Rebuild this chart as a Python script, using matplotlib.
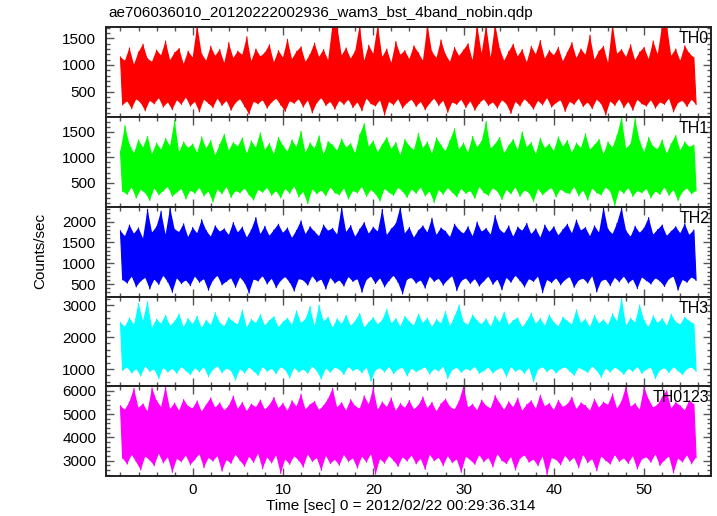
import matplotlib
matplotlib.use("Agg")
import matplotlib.pyplot as plt
from matplotlib.ticker import MultipleLocator
import numpy as np

plt.rcParams['font.family'] = ['Liberation Sans', 'DejaVu Sans']

title = "ae706036010_20120222002936_wam3_bst_4band_nobin.qdp"
xlabel = "Time [sec] 0 = 2012/02/22 00:29:36.314"
ylabel = "Counts/sec"

band_names = ["TH0", "TH1", "TH2", "TH3", "TH0123"]
band_colors = ["#ff0000", "#00ff00", "#0000ff", "#00ffff", "#ff00ff"]

time_start = -8.0
time_step = 0.5

th0_hi = [1150, 1080, 1320, 1010, 1240, 1390, 1120, 1060, 1280, 1180, 1450, 1090, 1230, 1310, 1020, 1260,
          1140, 1750, 1210, 1080, 1350, 1170, 1290, 1040, 1420, 1130, 1260, 1190, 1530, 1070, 1300, 1160,
          1230, 1380, 1050, 1270, 1140, 1480, 1110, 1250, 1340, 1060, 1200, 1410, 1150, 1290, 1090, 1760,
          1740, 1180, 1320, 1120, 1260, 1750, 1080, 1370, 1210, 1760, 1150, 1300, 1040, 1440, 1190, 1270,
          1110, 1360, 1230, 1080, 1750, 1250, 1130, 1470, 1200, 1060, 1330, 1170, 1280, 1400, 1090, 1760,
          1220, 1750, 1140, 1770, 1310, 1080, 1250, 1390, 1160, 1290, 1050, 1350, 1200, 1460, 1120, 1270,
          1180, 1330, 1070, 1240, 1420, 1130, 1300, 1190, 1560, 1100, 1260, 1350, 1040, 1760, 1210, 1290,
          1150, 1380, 1090, 1240, 1330, 1110, 1450, 1200, 1750, 1760, 1170, 1300, 1080, 1360, 1220, 1140]
th0_lo = [250, 320, 180, 360, 290, 140, 330, 270, 380, 210, 300, 160, 340, 260, 390, 230,
          310, 120, 350, 280, 200, 370, 240, 330, 150, 290, 360, 220, 80, 310, 270, 340,
          190, 300, 370, 250, 130, 320, 280, 360, 210, 340, 100, 290, 380, 240, 310, 170,
          330, 260, 350, 200, 300, 140, 370, 270, 230, 340, 60, 310, 250, 360, 190, 290,
          350, 220, 310, 160, 280, 370, 240, 330, 110, 300, 260, 350, 200, 320, 150, 280,
          360, 240, 300, 190, 340, 270, 90, 310, 230, 360, 280, 170, 330, 250, 380, 210,
          290, 340, 130, 310, 260, 370, 220, 300, 180, 350, 270, 60, 320, 240, 360, 200,
          310, 150, 350, 270, 230, 340, 190, 300, 260, 370, 120, 290, 330, 220, 350, 260]

th1_hi = [1120, 1620, 1250, 1080, 1340, 1190, 1410, 1060, 1280, 1150, 1370, 1220, 1720, 1100, 1300, 1180,
          1260, 1090, 1400, 1170, 1330, 1040, 1250, 1450, 1130, 1290, 1210, 1380, 1070, 1320, 1190, 1480,
          1150, 1270, 1060, 1390, 1230, 1110, 1340, 1200, 1510, 1090, 1280, 1170, 1420, 1050, 1310, 1240,
          1130, 1360, 1190, 1270, 1080, 1440, 1660, 1210, 1320, 1100, 1250, 1390, 1160, 1290, 1040, 1350,
          1220, 1140, 1470, 1180, 1300, 1070, 1380, 1240, 1120, 1330, 1560, 1150, 1280, 1090, 1410, 1200,
          1310, 1700, 1170, 1260, 1390, 1080, 1230, 1350, 1140, 1500, 1200, 1290, 1060, 1370, 1180, 1260,
          1120, 1400, 1210, 1330, 1090, 1280, 1180, 1460, 1150, 1240, 1350, 1060, 1300, 1190, 1430, 1780,
          1170, 1260, 1760, 1320, 1100, 1390, 1210, 1160, 1340, 1070, 1270, 1430, 1130, 1300, 1200, 1240]
th1_lo = [330, 270, 410, 200, 360, 300, 150, 390, 260, 340, 420, 230, 310, 380, 180, 350,
          290, 400, 240, 330, 120, 370, 280, 420, 210, 340, 300, 390, 260, 160, 360, 310,
          400, 250, 340, 200, 380, 290, 430, 220, 320, 90, 370, 280, 350, 240, 410, 300,
          260, 390, 180, 340, 300, 420, 230, 360, 280, 140, 380, 310, 250, 400, 330, 210,
          370, 290, 410, 240, 330, 110, 360, 270, 400, 310, 220, 380, 290, 340, 190, 420,
          300, 250, 390, 330, 170, 360, 280, 410, 230, 350, 300, 130, 380, 260, 340, 400,
          220, 370, 310, 280, 420, 240, 350, 160, 390, 300, 260, 410, 330, 50, 360, 290,
          400, 230, 340, 300, 380, 200, 330, 270, 410, 250, 360, 150, 320, 390, 280, 340]

th2_hi = [1780, 1650, 1920, 1710, 1850, 1600, 2300, 1740, 1880, 2250, 1690, 2340, 1820, 1750, 1950, 1630,
          1860, 1720, 2050, 1790, 1640, 1900, 1760, 1830, 1680, 1980, 1740, 1870, 1620, 1810, 2100, 1700,
          1890, 1660, 1800, 1940, 1730, 1850, 1610, 1790, 2020, 1700, 1880, 1760, 1650, 1920, 1780, 1840,
          1690, 2360, 1750, 1910, 1640, 1820, 1980, 1710, 1870, 1760, 2300, 1680, 1830, 1950, 2350, 1720,
          1860, 1620, 1790, 1900, 1740, 2080, 1680, 1850, 1770, 1630, 1940, 1800, 1710, 1880, 1650, 1990,
          1760, 1840, 1690, 2150, 1810, 1720, 1900, 1640, 1870, 1780, 1960, 1700, 1830, 1620, 1920, 1750,
          1880, 1670, 1810, 1940, 1720, 2040, 1790, 1860, 1650, 1900, 1740, 2340, 1820, 1700, 1960, 2330,
          1780, 1640, 1890, 1730, 1850, 2100, 1690, 1810, 1920, 1660, 1770, 1880, 1720, 1950, 1680, 1800]
th2_lo = [600, 520, 680, 430, 570, 650, 380, 610, 490, 700, 550, 300, 640, 510, 590, 460,
          680, 540, 620, 350, 590, 700, 480, 560, 640, 420, 660, 530, 280, 610, 570, 690,
          500, 630, 410, 580, 670, 540, 330, 620, 590, 470, 690, 550, 610, 380, 650, 520,
          590, 450, 670, 560, 620, 300, 600, 680, 510, 640, 430, 580, 700, 540, 260, 610,
          650, 520, 590, 400, 680, 560, 630, 470, 600, 690, 340, 570, 640, 510, 620, 450,
          570, 680, 490, 610, 360, 650, 540, 700, 580, 430, 620, 560, 680, 290, 600, 530,
          640, 480, 600, 670, 420, 590, 630, 520, 690, 310, 570, 610, 460, 650, 550, 680,
          520, 610, 390, 660, 580, 500, 640, 570, 440, 620, 680, 350, 600, 540, 660, 590]

th3_hi = [2450, 2320, 2600, 2380, 3050, 2510, 3100, 2290, 2560, 2420, 2680, 2350, 2490, 2720, 2310, 2580,
          2400, 2650, 2280, 2530, 2370, 2760, 2450, 2330, 2610, 2480, 2390, 2840, 2300, 2550, 2430, 2700,
          2360, 2520, 2640, 2310, 2470, 2590, 2380, 2820, 2440, 2560, 2950, 2340, 3000, 2490, 2620, 2290,
          2570, 2410, 2680, 2350, 2500, 2740, 2300, 2460, 2610, 2390, 2530, 2870, 2420, 2580, 2330, 2650,
          2480, 2360, 2720, 2440, 2590, 2310, 2550, 2420, 2800, 2340, 2630, 3000, 2470, 2380, 2690, 2510,
          2400, 2570, 2320, 2660, 2450, 2780, 2370, 2520, 2600, 2300, 2490, 2740, 2410, 2580, 2350, 2690,
          2460, 2330, 2620, 2500, 2390, 2850, 2440, 2560, 2310, 2680, 2420, 2540, 2370, 2730, 2480, 3200,
          2360, 2590, 2450, 3000, 2520, 2310, 2660, 2430, 2580, 2350, 2710, 2470, 2390, 2620, 2500, 2410]
th3_lo = [950, 1050, 870, 1000, 780, 1080, 920, 990, 700, 1040, 900, 1010, 860, 1070, 940, 820,
          1030, 910, 1060, 760, 980, 1090, 880, 1020, 940, 650, 1000, 870, 1050, 930, 800, 1070,
          920, 1010, 850, 1060, 970, 720, 1040, 900, 990, 860, 1080, 940, 680, 1020, 890, 1050,
          980, 830, 1070, 940, 1010, 880, 1050, 620, 960, 1030, 900, 1070, 850, 990, 1040, 780,
          1020, 910, 980, 1060, 840, 1000, 930, 1080, 700, 970, 1040, 890, 1010, 950, 1070, 860,
          940, 1050, 870, 990, 1030, 760, 1070, 920, 1000, 860, 1040, 600, 980, 1060, 910, 1020,
          870, 1000, 1060, 930, 800, 1040, 970, 890, 1080, 950, 740, 1020, 900, 1050, 960, 830,
          1010, 920, 1070, 860, 990, 1040, 700, 960, 1030, 880, 1060, 940, 820, 1000, 1050, 930]

th0123_hi = [5350, 5180, 5520, 6100, 5260, 5440, 5120, 6120, 5580, 5300, 6150, 5210, 5470, 5150, 5620, 5330,
             5240, 5560, 5110, 5400, 5690, 5270, 5480, 5160, 5350, 5770, 5220, 5500, 5130, 5430, 5290, 5600,
             5190, 5380, 5710, 5250, 5460, 5140, 5570, 5320, 5850, 5200, 5410, 5540, 5170, 5360, 5650, 6100,
             5280, 5490, 5150, 5620, 5340, 5230, 5780, 5410, 6100, 5180, 5520, 5300, 5690, 5140, 5450, 5260,
             5580, 5200, 5370, 5730, 5250, 5500, 5120, 5440, 5640, 5310, 5190, 5550, 6200, 5280, 5420, 5160,
             5600, 5350, 5240, 5790, 5460, 5180, 5530, 5290, 5680, 5140, 5400, 5570, 5220, 5810, 5330, 5460,
             5170, 5590, 5300, 5420, 5720, 5210, 5480, 5360, 5150, 5640, 5270, 5510, 5390, 5860, 5230, 5550,
             6200, 5310, 5450, 5180, 6150, 5620, 5280, 5400, 5730, 6000, 5240, 5500, 5350, 5160, 5580, 5420]
th0123_lo = [3100, 2850, 3250, 2950, 2600, 3180, 3020, 2780, 3300, 2900, 3150, 2500, 3080, 2950, 3220, 2820,
             3050, 3280, 2700, 3120, 2980, 3200, 2550, 3030, 2880, 3260, 3000, 2760, 3170, 2920, 3300, 2650,
             3140, 2900, 3230, 2450, 3060, 2840, 3190, 3010, 2720, 3270, 2960, 3120, 2580, 3210, 2870, 3040,
             2800, 3250, 2960, 3100, 2680, 3180, 2930, 3290, 2420, 3070, 2890, 3200, 3010, 2750, 3150, 2980,
             3220, 2860, 3080, 2620, 3260, 2990, 3130, 2780, 3200, 2910, 3060, 2500, 3170, 3030, 2840, 3240,
             2950, 3120, 2730, 3280, 3000, 2870, 3160, 2600, 3090, 3230, 2930, 3050, 2780, 3190, 2400, 3110,
             3040, 2820, 3210, 2970, 3130, 2690, 3250, 2910, 3070, 2560, 3180, 3000, 2850, 3240, 2960, 3100,
             2880, 3200, 2640, 3060, 3150, 2930, 3270, 2790, 3020, 3180, 2470, 3090, 2940, 3230, 2860, 3140]

series_hi = [th0_hi, th1_hi, th2_hi, th3_hi, th0123_hi]
series_lo = [th0_lo, th1_lo, th2_lo, th3_lo, th0123_lo]
y_limits = [(25, 1712), (24, 1790), (188, 2353), (469, 3250), (2343, 6200)]
y_major = [500, 500, 500, 1000, 1000]
y_minor = [100, 100, 100, 200, 200]
x_limits = (-9.6, 57.4)

W, H = 717, 516
fig = plt.figure(figsize=(W / 100, H / 100), dpi=100)
left_px, right_px = 106, 711
tops = [27, 117, 207, 297, 386]
bottoms = [117, 207, 297, 386, 476]
edge = '#222222'

for i in range(5):
    ax = fig.add_axes([left_px / W, 1 - bottoms[i] / H,
                       (right_px - left_px) / W, (bottoms[i] - tops[i]) / H])
    hi = np.asarray(series_hi[i], dtype=float)
    lo = np.asarray(series_lo[i], dtype=float)
    n = len(hi)
    t_hi = time_start + time_step * np.arange(n)
    t_lo = t_hi + time_step / 2
    col = band_colors[i]
    # band between upper and lower envelopes
    ax.fill(np.r_[t_hi, t_lo[::-1]], np.r_[hi, lo[::-1]], color=col, lw=0)
    # zigzag trace through the envelope points
    t = np.empty(2 * n)
    y = np.empty(2 * n)
    t[0::2], t[1::2] = t_hi, t_lo
    y[0::2], y[1::2] = hi, lo
    ax.plot(t, y, color=col, lw=0.8)
    ax.set_xlim(*x_limits)
    ax.set_ylim(*y_limits[i])
    ax.xaxis.set_major_locator(MultipleLocator(10))
    ax.xaxis.set_minor_locator(MultipleLocator(2))
    ax.yaxis.set_major_locator(MultipleLocator(y_major[i]))
    ax.yaxis.set_minor_locator(MultipleLocator(y_minor[i]))
    ax.tick_params(which='both', direction='in', top=True, right=True,
                   color='#555555', width=1.0)
    ax.tick_params(which='major', length=6)
    ax.tick_params(which='minor', length=3)
    ax.tick_params(axis='y', labelsize=11, pad=7)
    ax.tick_params(axis='x', labelsize=11, pad=5)
    if i < 4:
        ax.tick_params(axis='x', labelbottom=False)
    for s in ax.spines.values():
        s.set_color(edge)
        s.set_linewidth(1.4)
        s.set_zorder(5)
    ax.text(0.997, 0.96, band_names[i], transform=ax.transAxes, ha='right',
            va='top', fontsize=11.5, zorder=6)

fig.text(108 / W, 1 - 13 / H, title, ha='left', va='center', fontsize=11)
fig.text(401 / W, 1 - 506 / H, xlabel, ha='center', va='center', fontsize=11)
fig.text(40 / W, 1 - 251 / H, ylabel, ha='center', va='center', rotation=90,
         fontsize=11)

fig.savefig("out.png", dpi=100)
